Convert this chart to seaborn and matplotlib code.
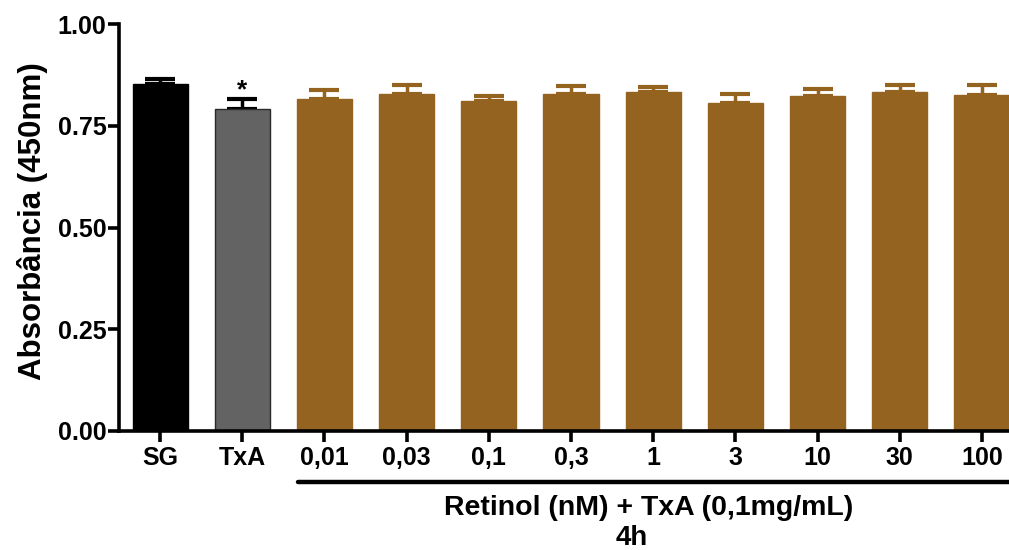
import numpy as np
import pandas as pd
import matplotlib
matplotlib.use("Agg")
import matplotlib.pyplot as plt
import matplotlib.transforms as mtransforms
import seaborn as sns

# -------------------------------------------------
# data
# -------------------------------------------------
groups = ["SG", "TxA", "0,01", "0,03", "0,1", "0,3", "1", "3", "10", "30", "100"]
means = [0.852, 0.790, 0.815, 0.829, 0.810, 0.828, 0.832, 0.806, 0.822, 0.832, 0.826]
sems = [0.013, 0.026, 0.023, 0.022, 0.013, 0.020, 0.012, 0.023, 0.019, 0.017, 0.025]
bar_colors = ["#000000", "#636363"] + ["#946320"] * 9
edge_colors = ["#000000", "#2a2a2a"] + ["#946320"] * 9

df = pd.DataFrame({"group": groups, "absorb": means})

sns.set_style("ticks")
plt.rcParams["font.family"] = ["Liberation Sans", "DejaVu Sans"]
plt.rcParams["font.weight"] = "bold"
plt.rcParams["text.color"] = "black"
plt.rcParams["axes.labelcolor"] = "black"

fig = plt.figure(figsize=(10.09, 5.5), dpi=100)
ax = fig.add_axes([119 / 1009, 119 / 550, 890 / 1009, 407 / 550])

sns.barplot(
    data=df, x="group", y="absorb", hue="group", order=groups,
    palette=dict(zip(groups, bar_colors)), saturation=1, width=0.67,
    legend=False, ax=ax, zorder=2,
)
for patch, ec in zip(ax.patches, edge_colors):
    patch.set_edgecolor(ec)
    patch.set_linewidth(1.0)
    patch.set_zorder(2)

# upper error bars only, drawn behind the bars
for i, (m, e, c) in enumerate(zip(means, sems, edge_colors)):
    col = "#000000" if i < 2 else c
    ax.errorbar(i, m, yerr=[[0], [e]], fmt="none", ecolor=col,
                elinewidth=2.5, capsize=10.5, capthick=3, zorder=1)

# significance mark over TxA
ax.text(1, means[1] + sems[1] + 0.004, "*", ha="center", va="baseline",
        fontsize=19, fontweight="bold", color="black")

ax.set_xlim(-0.5, 10.33)
ax.set_ylim(0, 1.0)
ax.set_yticks([0, 0.25, 0.5, 0.75, 1.0])
ax.set_yticklabels(["0.00", "0.25", "0.50", "0.75", "1.00"])
ax.set_xlabel("")
ax.set_ylabel("Absorbância (450nm)", fontsize=22.5, fontweight="bold",
              color="black")
ax.yaxis.set_label_coords(-0.08, 0.515)

for s in ["top", "right"]:
    ax.spines[s].set_visible(False)
for s in ["left", "bottom"]:
    ax.spines[s].set_linewidth(2.6)
    ax.spines[s].set_color("black")
ax.tick_params(axis="both", width=2.6, length=8, color="black",
               labelsize=18, labelcolor="black")
ax.tick_params(axis="y", pad=1)
ax.tick_params(axis="x", pad=3)
for lab in ax.get_xticklabels() + ax.get_yticklabels():
    lab.set_fontweight("bold")

# bracket line and group label under the retinol bars
trans = mtransforms.blended_transform_factory(ax.transData, fig.transFigure)
ax.plot([1.68, 10.5], [(550 - 482) / 550] * 2, color="black", lw=3.2,
        solid_capstyle="round", transform=trans, clip_on=False)
fig.text(649 / 1009, (550 - 515) / 550, "Retinol (nM) + TxA (0,1mg/mL)",
         ha="center", va="baseline", fontsize=20.5, fontweight="bold")
fig.text(632 / 1009, 5 / 550, "4h", ha="center", va="baseline",
         fontsize=20, fontweight="bold")

fig.savefig("out.png", dpi=100)
